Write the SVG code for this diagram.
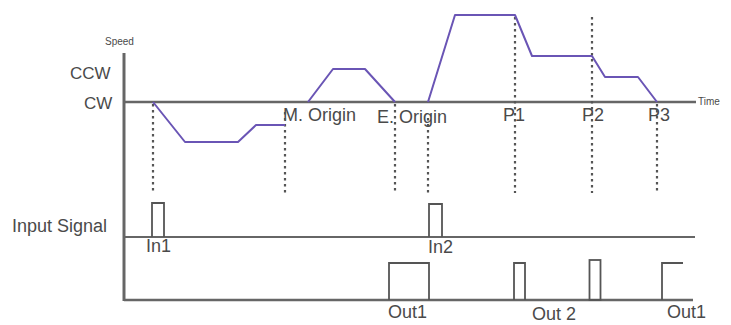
<svg xmlns="http://www.w3.org/2000/svg" width="731" height="325" viewBox="0 0 731 325">
<style>
text{font-family:"Liberation Sans",Arial,sans-serif;fill:#4a4a4a;font-size:18px}
.sm{font-size:10px}
.ax{font-size:17px}
.axis{stroke:#666;fill:none}
.dot{stroke:#555;stroke-width:2.2;stroke-dasharray:2.5 3.5;fill:none}
.prof{stroke:#6a55b5;stroke-width:2;fill:none;stroke-linejoin:round}
.sig{stroke:#555;stroke-width:1.8;fill:none}
</style>
<rect width="731" height="325" fill="#fff"/>
<g id="axes">
<line class="axis" x1="124" y1="53" x2="124" y2="301" stroke-width="3"/>
<line class="axis" x1="124" y1="102" x2="696" y2="102" stroke-width="2.5"/>
<line class="axis" x1="124" y1="237" x2="695" y2="237" stroke-width="2"/>
<line class="axis" x1="124" y1="300" x2="693" y2="300" stroke-width="2.5"/>
</g>
<g id="labels">
<text class="sm" x="105" y="45">Speed</text>
<text class="ax" x="70" y="79">CCW</text>
<text class="ax" x="84" y="109">CW</text>
<text class="sm" x="698" y="105">Time</text>
<text x="12" y="232">Input Signal</text>
<text x="283" y="121">M. Origin</text>
<text x="377" y="123">E. Origin</text>
<text x="503" y="121">P1</text>
<text x="582" y="121">P2</text>
<text x="648" y="121">P3</text>
<text x="146" y="252" font-size="16">In1</text>
<text x="428" y="253" font-size="16">In2</text>
<text x="388" y="318">Out1</text>
<text x="532" y="320">Out 2</text>
<text x="667" y="318">Out1</text>
</g>
<g id="connectors">
<line class="dot" x1="153" y1="104" x2="153" y2="193"/>
<line class="dot" x1="285" y1="112" x2="285" y2="193"/>
<line class="dot" x1="395" y1="104" x2="395" y2="193"/>
<line class="dot" x1="428" y1="118" x2="428" y2="193"/>
<line class="dot" x1="515" y1="17" x2="515" y2="193"/>
<line class="dot" x1="592" y1="17" x2="592" y2="193"/>
<line class="dot" x1="657" y1="104" x2="657" y2="193"/>
</g>
<g id="profile">
<polyline class="prof" points="153,102 185,142 238,142 256,125 285,125"/>
<polyline class="prof" points="308,102 333,69 365,69 395,102"/>
<polyline class="prof" points="428,102 455,15 515,15 532,56 592,56 605,77 638,77 657,102"/>
</g>
<g id="input-signal">
<polyline class="sig" points="152,237 152,203 164,203 164,237"/>
<polyline class="sig" points="429,237 429,204 442,204 442,237"/>
</g>
<g id="output-signal">
<polyline class="sig" points="389,300 389,263 429,263 429,300"/>
<polyline class="sig" points="514,300 514,263 525,263 525,300"/>
<rect class="sig" x="589.5" y="260" width="11" height="40" stroke-width="2.2"/>
<polyline class="sig" points="662,300 662,263 683,263"/>
</g>
</svg>
